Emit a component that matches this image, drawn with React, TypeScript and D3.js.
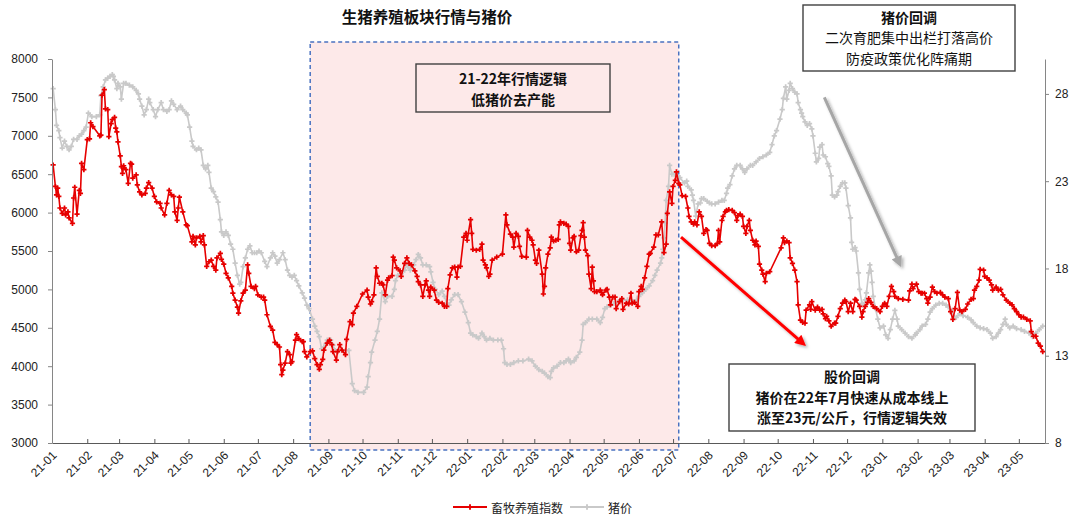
import React, { useRef, useEffect } from 'react';
import * as d3 from 'd3';

type Point = [string, number];

// 畜牧养殖指数, left axis
const livestockIndex: Point[] = [
    ["2021-01-02", 6620], ["2021-01-04", 6340], ["2021-01-05", 6230], ["2021-01-06", 6320], ["2021-01-07", 6210], ["2021-01-08", 6060], ["2021-01-10", 5990], ["2021-01-12", 6060], ["2021-01-13", 5970], ["2021-01-15", 6010], ["2021-01-16", 5930], ["2021-01-19", 5860], ["2021-01-20", 6190], ["2021-01-21", 6330], ["2021-01-23", 5980], ["2021-01-25", 6290], ["2021-01-26", 6250], ["2021-01-27", 6640], ["2021-01-29", 6560],
    ["2021-02-01", 6950], ["2021-02-03", 6960], ["2021-02-04", 7170], ["2021-02-06", 7120], ["2021-02-12", 7000], ["2021-02-13", 7010], ["2021-02-14", 7530], ["2021-02-16", 7600], ["2021-02-17", 7350], ["2021-02-19", 7340], ["2021-02-20", 6990], ["2021-02-22", 7160], ["2021-02-23", 7210], ["2021-02-25", 7240], ["2021-02-26", 7100], ["2021-02-27", 7050], ["2021-02-28", 6920],
    ["2021-03-02", 6740], ["2021-03-03", 6600], ["2021-03-04", 6510], ["2021-03-05", 6610], ["2021-03-07", 6560], ["2021-03-09", 6380], ["2021-03-11", 6640], ["2021-03-12", 6630], ["2021-03-13", 6450], ["2021-03-16", 6490], ["2021-03-17", 6360], ["2021-03-19", 6270], ["2021-03-21", 6230], ["2021-03-24", 6250], ["2021-03-25", 6320], ["2021-03-27", 6390], ["2021-03-30", 6320],
    ["2021-04-01", 6210], ["2021-04-03", 6140], ["2021-04-06", 6120], ["2021-04-07", 6060], ["2021-04-10", 5970], ["2021-04-12", 6120], ["2021-04-14", 6290], ["2021-04-16", 6230], ["2021-04-18", 6210], ["2021-04-19", 6010], ["2021-04-21", 5900], ["2021-04-22", 6060], ["2021-04-23", 6200], ["2021-04-26", 6010], ["2021-04-29", 5840], ["2021-04-30", 5830],
    ["2021-05-04", 5620], ["2021-05-05", 5690], ["2021-05-07", 5580], ["2021-05-08", 5670], ["2021-05-11", 5690], ["2021-05-12", 5620], ["2021-05-14", 5700], ["2021-05-15", 5580], ["2021-05-17", 5300], ["2021-05-19", 5360], ["2021-05-21", 5380], ["2021-05-23", 5300], ["2021-05-25", 5250], ["2021-05-26", 5410], ["2021-05-29", 5470], ["2021-05-30", 5390],
    ["2021-06-01", 5330], ["2021-06-03", 5210], ["2021-06-05", 5150], ["2021-06-08", 5040], ["2021-06-09", 4950], ["2021-06-11", 4860], ["2021-06-13", 4770], ["2021-06-14", 4690], ["2021-06-16", 4850], ["2021-06-18", 4950], ["2021-06-20", 4990], ["2021-06-22", 5320], ["2021-06-23", 5210], ["2021-06-25", 5040], ["2021-06-28", 5010], ["2021-06-29", 5040],
    ["2021-07-01", 4930], ["2021-07-04", 4900], ["2021-07-06", 4900], ["2021-07-07", 4860], ["2021-07-09", 4670], ["2021-07-12", 4520], ["2021-07-14", 4470], ["2021-07-16", 4310], ["2021-07-18", 4280], ["2021-07-20", 4250], ["2021-07-21", 4020], ["2021-07-22", 3890], ["2021-07-23", 3950], ["2021-07-25", 4040], ["2021-07-27", 4190], ["2021-07-29", 4150], ["2021-07-30", 4040], ["2021-07-31", 4060],
    ["2021-08-03", 4340], ["2021-08-04", 4410], ["2021-08-06", 4360], ["2021-08-09", 4320], ["2021-08-10", 4320], ["2021-08-11", 4190], ["2021-08-13", 4120], ["2021-08-16", 4190], ["2021-08-18", 4200], ["2021-08-20", 4100], ["2021-08-22", 4020], ["2021-08-24", 3960], ["2021-08-25", 4020], ["2021-08-27", 4090], ["2021-08-28", 4210], ["2021-08-31", 4300],
    ["2021-09-02", 4340], ["2021-09-04", 4280], ["2021-09-05", 4190], ["2021-09-08", 4080], ["2021-09-09", 4190], ["2021-09-11", 4280], ["2021-09-13", 4210], ["2021-09-16", 4150], ["2021-09-17", 4350], ["2021-09-20", 4580], ["2021-09-22", 4540], ["2021-09-23", 4690], ["2021-09-26", 4780],
    ["2021-10-01", 4940], ["2021-10-05", 4990], ["2021-10-06", 4900], ["2021-10-08", 4810], ["2021-10-09", 4840], ["2021-10-11", 4930], ["2021-10-13", 5280], ["2021-10-14", 5170], ["2021-10-16", 5080], ["2021-10-18", 5080], ["2021-10-19", 5060], ["2021-10-21", 4930], ["2021-10-23", 5120], ["2021-10-24", 5150], ["2021-10-27", 5180], ["2021-10-28", 5420], ["2021-10-29", 5380], ["2021-10-31", 5280],
    ["2021-11-03", 5240], ["2021-11-04", 5170], ["2021-11-07", 5340], ["2021-11-09", 5410], ["2021-11-11", 5340], ["2021-11-13", 5320], ["2021-11-16", 5240], ["2021-11-18", 5170], ["2021-11-19", 5100], ["2021-11-21", 5060], ["2021-11-23", 4910], ["2021-11-25", 5060], ["2021-11-26", 5110], ["2021-11-28", 4990], ["2021-11-29", 4910], ["2021-11-30", 5030],
    ["2021-12-03", 4990], ["2021-12-05", 4860], ["2021-12-07", 4830], ["2021-12-10", 4820], ["2021-12-12", 4780], ["2021-12-14", 4780], ["2021-12-15", 5010], ["2021-12-17", 5190], ["2021-12-19", 5280], ["2021-12-21", 5290], ["2021-12-23", 5160], ["2021-12-24", 5290], ["2021-12-26", 5300], ["2021-12-29", 5680], ["2021-12-31", 5730],
    ["2022-01-01", 5640], ["2022-01-04", 5910], ["2022-01-05", 5730], ["2022-01-06", 5520], ["2022-01-09", 5510], ["2022-01-12", 5520], ["2022-01-14", 5590], ["2022-01-15", 5380], ["2022-01-17", 5320], ["2022-01-18", 5280], ["2022-01-20", 5170], ["2022-01-21", 5200], ["2022-01-23", 5380], ["2022-01-27", 5420],
    ["2022-02-01", 5460], ["2022-02-04", 5970], ["2022-02-05", 5840], ["2022-02-08", 5720], ["2022-02-10", 5680], ["2022-02-11", 5550], ["2022-02-13", 5730], ["2022-02-15", 5690], ["2022-02-16", 5560], ["2022-02-18", 5430], ["2022-02-22", 5420], ["2022-02-23", 5770], ["2022-02-25", 5680], ["2022-02-27", 5640], ["2022-02-28", 5580],
    ["2022-03-02", 5380], ["2022-03-03", 5340], ["2022-03-05", 5510], ["2022-03-08", 5200], ["2022-03-09", 4940], ["2022-03-10", 5040], ["2022-03-11", 5280], ["2022-03-13", 5460], ["2022-03-15", 5540], ["2022-03-16", 5680], ["2022-03-18", 5630], ["2022-03-20", 5640], ["2022-03-22", 5650], ["2022-03-23", 5840], ["2022-03-24", 5880], ["2022-03-27", 5860], ["2022-03-29", 5850], ["2022-03-31", 5820],
    ["2022-04-01", 5600], ["2022-04-02", 5510], ["2022-04-04", 5670], ["2022-04-05", 5690], ["2022-04-07", 5490], ["2022-04-09", 5510], ["2022-04-11", 5700], ["2022-04-12", 5770], ["2022-04-13", 5870], ["2022-04-14", 5680], ["2022-04-15", 5510], ["2022-04-17", 5440], ["2022-04-18", 5200], ["2022-04-20", 5010], ["2022-04-21", 5290], ["2022-04-22", 5110], ["2022-04-23", 4970], ["2022-04-25", 4970], ["2022-04-28", 4990], ["2022-04-29", 4960], ["2022-04-30", 4930],
    ["2022-05-03", 4990], ["2022-05-04", 5000], ["2022-05-06", 4900], ["2022-05-07", 4800], ["2022-05-09", 4900], ["2022-05-11", 4900], ["2022-05-12", 4750], ["2022-05-15", 4840], ["2022-05-17", 4880], ["2022-05-18", 4740], ["2022-05-21", 4820], ["2022-05-23", 4810], ["2022-05-25", 4950], ["2022-05-26", 4820], ["2022-05-28", 4830], ["2022-05-31", 4780],
    ["2022-06-01", 4970], ["2022-06-03", 5040], ["2022-06-04", 5000], ["2022-06-06", 5150], ["2022-06-08", 5300], ["2022-06-10", 5460], ["2022-06-11", 5470], ["2022-06-14", 5550], ["2022-06-16", 5710], ["2022-06-18", 5710], ["2022-06-21", 5880], ["2022-06-23", 5480], ["2022-06-25", 5590], ["2022-06-26", 5990], ["2022-06-28", 6270], ["2022-06-30", 6120],
    ["2022-07-01", 6340], ["2022-07-03", 6420], ["2022-07-04", 6530], ["2022-07-06", 6380], ["2022-07-07", 6360], ["2022-07-09", 6220], ["2022-07-12", 6210], ["2022-07-14", 6060], ["2022-07-15", 5950], ["2022-07-17", 5880], ["2022-07-19", 5850], ["2022-07-20", 5880], ["2022-07-22", 5840], ["2022-07-24", 6010], ["2022-07-26", 5950], ["2022-07-28", 5730], ["2022-07-30", 5780], ["2022-07-31", 5770],
    ["2022-08-02", 5600], ["2022-08-04", 5570], ["2022-08-07", 5570], ["2022-08-09", 5600], ["2022-08-10", 5770], ["2022-08-11", 5620], ["2022-08-13", 5900], ["2022-08-14", 5950], ["2022-08-16", 6010], ["2022-08-17", 6030], ["2022-08-19", 6040], ["2022-08-22", 6030], ["2022-08-24", 6000], ["2022-08-26", 5900], ["2022-08-27", 5960], ["2022-08-29", 5980], ["2022-08-31", 5950],
    ["2022-09-01", 5820], ["2022-09-03", 5730], ["2022-09-04", 5820], ["2022-09-06", 5900], ["2022-09-07", 5770], ["2022-09-09", 5640], ["2022-09-11", 5580], ["2022-09-12", 5630], ["2022-09-14", 5560], ["2022-09-15", 5330], ["2022-09-17", 5250], ["2022-09-18", 5200], ["2022-09-20", 5100], ["2022-09-21", 5210], ["2022-09-24", 5230],
    ["2022-10-04", 5540], ["2022-10-06", 5670], ["2022-10-07", 5610], ["2022-10-09", 5630], ["2022-10-11", 5610], ["2022-10-12", 5410], ["2022-10-14", 5340], ["2022-10-16", 5250], ["2022-10-18", 5100], ["2022-10-19", 4800], ["2022-10-21", 4600], ["2022-10-23", 4570], ["2022-10-25", 4560], ["2022-10-26", 4730], ["2022-10-29", 4800], ["2022-10-30", 4740], ["2022-10-31", 4840],
    ["2022-11-03", 4730], ["2022-11-05", 4770], ["2022-11-07", 4730], ["2022-11-09", 4740], ["2022-11-10", 4680], ["2022-11-12", 4620], ["2022-11-13", 4650], ["2022-11-15", 4590], ["2022-11-17", 4520], ["2022-11-20", 4560], ["2022-11-21", 4560], ["2022-11-23", 4650], ["2022-11-25", 4750], ["2022-11-27", 4820], ["2022-11-29", 4860], ["2022-11-30", 4840],
    ["2022-12-02", 4710], ["2022-12-04", 4820], ["2022-12-06", 4710], ["2022-12-08", 4870], ["2022-12-09", 4860], ["2022-12-12", 4780], ["2022-12-14", 4640], ["2022-12-15", 4710], ["2022-12-17", 4780], ["2022-12-19", 4830], ["2022-12-20", 4880], ["2022-12-22", 4830], ["2022-12-24", 4780], ["2022-12-27", 4750], ["2022-12-30", 4710],
    ["2023-01-01", 4780], ["2023-01-03", 4820], ["2023-01-05", 4780], ["2023-01-07", 4910], ["2023-01-09", 5040], ["2023-01-11", 4970], ["2023-01-12", 4910], ["2023-01-15", 4880], ["2023-01-19", 4870], ["2023-01-24", 4860], ["2023-01-25", 4980], ["2023-01-27", 5070], ["2023-01-28", 5010], ["2023-01-31", 5070],
    ["2023-02-02", 4970], ["2023-02-04", 4950], ["2023-02-05", 4950], ["2023-02-07", 4950], ["2023-02-09", 4880], ["2023-02-10", 4820], ["2023-02-12", 4900], ["2023-02-14", 5030], ["2023-02-16", 4970], ["2023-02-18", 4950], ["2023-02-21", 4960], ["2023-02-23", 4930], ["2023-02-25", 4900], ["2023-02-28", 4880],
    ["2023-03-02", 4710], ["2023-03-04", 4610], ["2023-03-06", 4750], ["2023-03-08", 4960], ["2023-03-10", 4730], ["2023-03-12", 4710], ["2023-03-15", 4740], ["2023-03-17", 4810], ["2023-03-20", 4870], ["2023-03-22", 4880], ["2023-03-23", 4990], ["2023-03-25", 5040], ["2023-03-27", 5120], ["2023-03-28", 5260], ["2023-03-31", 5250],
    ["2023-04-01", 5170], ["2023-04-03", 5150], ["2023-04-05", 5120], ["2023-04-07", 5060], ["2023-04-08", 4990], ["2023-04-11", 5030], ["2023-04-13", 4990], ["2023-04-15", 5000], ["2023-04-17", 4930], ["2023-04-20", 4860], ["2023-04-23", 4820], ["2023-04-25", 4800], ["2023-04-27", 4750], ["2023-04-29", 4710],
    ["2023-05-01", 4670], ["2023-05-03", 4640], ["2023-05-05", 4640], ["2023-05-08", 4610], ["2023-05-11", 4590], ["2023-05-12", 4450], ["2023-05-14", 4390], ["2023-05-16", 4390], ["2023-05-18", 4300], ["2023-05-20", 4260], ["2023-05-22", 4190],
];

// 猪价 (元/公斤), right axis
const hogPrice: Point[] = [
    ["2021-01-02", 28.3], ["2021-01-04", 27.1], ["2021-01-05", 26.2], ["2021-01-07", 25.9], ["2021-01-08", 25.5], ["2021-01-10", 24.9], ["2021-01-12", 25.3], ["2021-01-14", 25.0], ["2021-01-16", 24.8], ["2021-01-18", 25.0], ["2021-01-20", 25.4], ["2021-01-23", 25.4], ["2021-01-25", 25.6], ["2021-01-27", 25.7], ["2021-01-29", 25.9], ["2021-01-31", 26.1],
    ["2021-02-02", 26.9], ["2021-02-05", 26.7], ["2021-02-09", 26.7], ["2021-02-12", 26.8], ["2021-02-13", 27.9], ["2021-02-15", 28.4], ["2021-02-17", 28.8], ["2021-02-19", 28.9], ["2021-02-21", 29.0], ["2021-02-23", 29.1], ["2021-02-24", 29.0], ["2021-02-25", 28.8], ["2021-02-27", 28.3], ["2021-02-28", 28.6],
    ["2021-03-02", 28.4], ["2021-03-03", 27.7], ["2021-03-05", 28.6], ["2021-03-07", 28.6], ["2021-03-10", 28.5], ["2021-03-13", 28.4], ["2021-03-16", 28.2], ["2021-03-18", 28.0], ["2021-03-19", 27.7], ["2021-03-21", 27.3], ["2021-03-23", 26.8], ["2021-03-25", 27.1], ["2021-03-27", 27.7], ["2021-03-28", 27.5], ["2021-03-31", 27.1],
    ["2021-04-02", 26.7], ["2021-04-04", 27.1], ["2021-04-07", 27.5], ["2021-04-09", 27.1], ["2021-04-12", 27.0], ["2021-04-14", 27.1], ["2021-04-16", 27.6], ["2021-04-18", 27.4], ["2021-04-21", 27.1], ["2021-04-24", 27.3], ["2021-04-26", 27.1], ["2021-04-29", 26.9], ["2021-04-30", 26.8],
    ["2021-05-02", 26.1], ["2021-05-04", 25.3], ["2021-05-05", 25.0], ["2021-05-08", 24.8], ["2021-05-10", 24.9], ["2021-05-12", 24.8], ["2021-05-14", 23.9], ["2021-05-16", 23.7], ["2021-05-18", 23.9], ["2021-05-19", 23.5], ["2021-05-21", 22.6], ["2021-05-23", 22.4], ["2021-05-25", 22.1], ["2021-05-27", 21.8], ["2021-05-29", 20.8], ["2021-05-30", 20.1],
    ["2021-06-01", 19.9], ["2021-06-03", 20.1], ["2021-06-05", 19.9], ["2021-06-07", 19.4], ["2021-06-09", 19.1], ["2021-06-11", 18.3], ["2021-06-13", 17.6], ["2021-06-15", 17.1], ["2021-06-16", 17.2], ["2021-06-18", 18.1], ["2021-06-20", 18.6], ["2021-06-22", 19.1], ["2021-06-24", 19.3], ["2021-06-26", 18.9], ["2021-06-28", 18.9], ["2021-06-30", 18.9],
    ["2021-07-02", 19.0], ["2021-07-04", 18.9], ["2021-07-07", 18.4], ["2021-07-09", 18.1], ["2021-07-12", 18.6], ["2021-07-14", 18.9], ["2021-07-16", 18.7], ["2021-07-18", 18.3], ["2021-07-20", 18.5], ["2021-07-23", 18.9], ["2021-07-25", 18.5], ["2021-07-27", 17.9], ["2021-07-29", 17.6], ["2021-07-31", 17.5],
    ["2021-08-02", 17.6], ["2021-08-04", 17.3], ["2021-08-06", 17.0], ["2021-08-09", 16.6], ["2021-08-11", 16.3], ["2021-08-13", 15.9], ["2021-08-15", 15.7], ["2021-08-18", 15.1], ["2021-08-20", 14.7], ["2021-08-22", 14.4], ["2021-08-24", 14.1], ["2021-08-26", 13.4], ["2021-08-28", 13.5], ["2021-08-30", 13.7], ["2021-08-31", 13.9],
    ["2021-09-03", 13.9], ["2021-09-05", 13.6], ["2021-09-07", 13.3], ["2021-09-10", 13.3], ["2021-09-13", 13.3], ["2021-09-16", 13.3], ["2021-09-19", 13.3], ["2021-09-22", 11.4], ["2021-09-24", 11.0], ["2021-09-27", 10.9],
    ["2021-10-02", 10.9], ["2021-10-05", 11.2], ["2021-10-06", 11.8], ["2021-10-08", 12.6], ["2021-10-09", 13.2], ["2021-10-12", 13.9], ["2021-10-14", 14.4], ["2021-10-16", 15.1], ["2021-10-18", 16.6], ["2021-10-21", 16.1], ["2021-10-23", 16.4], ["2021-10-27", 16.4], ["2021-10-29", 16.8], ["2021-10-30", 17.3],
    ["2021-11-01", 17.6], ["2021-11-04", 17.7], ["2021-11-07", 17.9], ["2021-11-09", 18.2], ["2021-11-10", 18.1], ["2021-11-12", 17.9], ["2021-11-15", 18.2], ["2021-11-17", 18.5], ["2021-11-19", 18.8], ["2021-11-21", 18.6], ["2021-11-23", 18.2], ["2021-11-26", 18.2], ["2021-11-29", 18.1], ["2021-11-30", 17.8],
    ["2021-12-02", 17.2], ["2021-12-04", 16.8], ["2021-12-07", 16.5], ["2021-12-10", 16.7], ["2021-12-12", 16.4], ["2021-12-14", 16.0], ["2021-12-16", 15.9], ["2021-12-18", 16.2], ["2021-12-21", 16.5], ["2021-12-24", 16.5], ["2021-12-27", 16.1], ["2021-12-30", 15.5],
    ["2022-01-02", 14.9], ["2022-01-04", 14.3], ["2022-01-06", 14.2], ["2022-01-09", 14.1], ["2022-01-11", 14.0], ["2022-01-14", 14.3], ["2022-01-16", 14.1], ["2022-01-18", 13.9], ["2022-01-21", 14.0], ["2022-01-24", 13.9], ["2022-01-28", 13.9], ["2022-01-31", 13.9],
    ["2022-02-02", 13.4], ["2022-02-03", 12.6], ["2022-02-05", 12.5], ["2022-02-08", 12.5], ["2022-02-11", 12.6], ["2022-02-15", 12.7], ["2022-02-19", 12.7], ["2022-02-24", 12.8], ["2022-02-27", 12.7],
    ["2022-03-02", 12.4], ["2022-03-05", 12.2], ["2022-03-08", 12.1], ["2022-03-10", 12.0], ["2022-03-13", 11.8], ["2022-03-15", 11.75], ["2022-03-16", 12.1], ["2022-03-18", 12.3], ["2022-03-21", 12.4], ["2022-03-24", 12.6], ["2022-03-27", 12.6], ["2022-03-29", 12.7], ["2022-03-31", 12.8],
    ["2022-04-02", 12.6], ["2022-04-05", 12.7], ["2022-04-07", 12.9], ["2022-04-10", 13.2], ["2022-04-12", 13.9], ["2022-04-13", 14.8], ["2022-04-15", 14.9], ["2022-04-18", 15.1], ["2022-04-21", 15.1], ["2022-04-25", 15.1], ["2022-04-28", 14.9], ["2022-04-30", 15.2],
    ["2022-05-02", 15.7], ["2022-05-04", 15.8], ["2022-05-07", 15.9], ["2022-05-10", 16.0], ["2022-05-14", 16.1], ["2022-05-18", 16.2], ["2022-05-22", 16.2], ["2022-05-25", 16.2], ["2022-05-28", 16.1], ["2022-05-30", 16.2],
    ["2022-06-01", 16.4], ["2022-06-04", 16.6], ["2022-06-07", 16.8], ["2022-06-10", 17.0], ["2022-06-13", 17.3], ["2022-06-15", 17.6], ["2022-06-17", 17.9], ["2022-06-20", 18.3], ["2022-06-21", 18.6], ["2022-06-22", 19.1], ["2022-06-23", 19.75], ["2022-06-24", 20.6], ["2022-06-25", 21.9], ["2022-06-27", 22.7], ["2022-06-28", 23.9], ["2022-06-30", 23.4],
    ["2022-07-02", 23.4], ["2022-07-04", 23.3], ["2022-07-07", 23.2], ["2022-07-11", 22.9], ["2022-07-13", 23.0], ["2022-07-14", 22.7], ["2022-07-17", 22.5], ["2022-07-18", 22.2], ["2022-07-19", 21.9], ["2022-07-21", 21.0], ["2022-07-23", 21.7], ["2022-07-25", 21.75], ["2022-07-26", 22.0], ["2022-07-28", 22.0], ["2022-07-31", 21.85],
    ["2022-08-02", 21.75], ["2022-08-04", 21.7], ["2022-08-07", 21.7], ["2022-08-10", 21.8], ["2022-08-13", 21.9], ["2022-08-15", 21.9], ["2022-08-17", 22.3], ["2022-08-18", 22.6], ["2022-08-20", 22.8], ["2022-08-22", 23.3], ["2022-08-24", 23.7], ["2022-08-26", 23.9], ["2022-08-29", 23.9], ["2022-08-31", 23.7],
    ["2022-09-02", 23.5], ["2022-09-04", 23.7], ["2022-09-07", 23.9], ["2022-09-09", 23.9], ["2022-09-12", 24.1], ["2022-09-15", 24.3], ["2022-09-18", 24.4], ["2022-09-21", 24.5], ["2022-09-24", 24.65], ["2022-09-26", 25.1], ["2022-09-28", 25.6], ["2022-09-30", 25.9],
    ["2022-10-03", 26.55], ["2022-10-05", 27.1], ["2022-10-06", 27.75], ["2022-10-08", 28.4], ["2022-10-09", 27.7], ["2022-10-11", 28.2], ["2022-10-12", 28.6], ["2022-10-14", 28.3], ["2022-10-16", 28.1], ["2022-10-18", 28.0], ["2022-10-19", 27.5], ["2022-10-21", 27.1], ["2022-10-22", 26.9], ["2022-10-23", 26.7], ["2022-10-25", 26.4], ["2022-10-27", 26.2], ["2022-10-29", 26.3], ["2022-10-31", 26.0],
    ["2022-11-01", 25.6], ["2022-11-03", 24.6], ["2022-11-04", 24.1], ["2022-11-06", 24.3], ["2022-11-07", 24.95], ["2022-11-09", 25.1], ["2022-11-10", 24.5], ["2022-11-12", 24.4], ["2022-11-14", 24.0], ["2022-11-15", 23.85], ["2022-11-17", 23.3], ["2022-11-18", 22.2], ["2022-11-20", 22.1], ["2022-11-22", 22.2], ["2022-11-23", 22.4], ["2022-11-25", 22.7], ["2022-11-27", 22.9], ["2022-11-29", 22.9], ["2022-11-30", 22.6],
    ["2022-12-02", 21.6], ["2022-12-04", 20.9], ["2022-12-05", 19.5], ["2022-12-06", 19.1], ["2022-12-08", 19.2], ["2022-12-09", 19.0], ["2022-12-11", 17.75], ["2022-12-12", 16.8], ["2022-12-14", 16.0], ["2022-12-15", 15.9], ["2022-12-17", 16.2], ["2022-12-18", 16.6], ["2022-12-20", 17.75], ["2022-12-21", 18.2], ["2022-12-22", 17.85], ["2022-12-23", 17.2], ["2022-12-24", 16.4], ["2022-12-26", 15.7], ["2022-12-28", 15.1], ["2022-12-30", 14.6],
    ["2023-01-02", 14.7], ["2023-01-04", 14.2], ["2023-01-06", 14.0], ["2023-01-08", 14.5], ["2023-01-10", 15.1], ["2023-01-12", 15.6], ["2023-01-14", 15.1], ["2023-01-15", 14.7], ["2023-01-18", 14.5], ["2023-01-21", 14.3], ["2023-01-24", 14.1], ["2023-01-27", 14.0], ["2023-01-30", 14.2], ["2023-01-31", 14.3],
    ["2023-02-03", 14.5], ["2023-02-05", 14.7], ["2023-02-08", 14.8], ["2023-02-10", 15.1], ["2023-02-12", 15.5], ["2023-02-14", 15.7], ["2023-02-17", 15.9], ["2023-02-20", 16.0], ["2023-02-23", 16.0], ["2023-02-26", 15.9], ["2023-02-28", 15.8],
    ["2023-03-03", 15.6], ["2023-03-05", 15.2], ["2023-03-07", 15.2], ["2023-03-10", 15.4], ["2023-03-13", 15.3], ["2023-03-17", 15.2], ["2023-03-20", 15.05], ["2023-03-22", 14.9], ["2023-03-25", 14.7], ["2023-03-28", 14.6], ["2023-03-31", 14.55],
    ["2023-04-03", 14.5], ["2023-04-06", 14.3], ["2023-04-08", 14.0], ["2023-04-11", 14.1], ["2023-04-13", 14.3], ["2023-04-15", 14.5], ["2023-04-17", 14.8], ["2023-04-19", 15.1], ["2023-04-20", 14.8], ["2023-04-23", 14.6], ["2023-04-26", 14.7], ["2023-04-29", 14.55],
    ["2023-05-03", 14.5], ["2023-05-06", 14.4], ["2023-05-10", 14.3], ["2023-05-13", 14.1], ["2023-05-16", 14.3], ["2023-05-19", 14.5], ["2023-05-22", 14.7],
];

const leftTicks = [3000, 3500, 4000, 4500, 5000, 5500, 6000, 6500, 7000, 7500, 8000];
const rightTicks = [8, 13, 18, 23, 28];
const dateRange: [string, string] = ["2021-01-01", "2023-05-24"];
const shadedPeriod: [string, string] = ["2021-08-16", "2022-07-06"];

const seriesNames = ["畜牧养殖指数", "猪价"];
const seriesColors = ["#e60000", "#c9c9c9"];
const titleText = "生猪养殖板块行情与猪价";
const logicNote = ["21-22年行情逻辑", "低猪价去产能"];
const pigNote = ["猪价回调", "二次育肥集中出栏打落高价", "防疫政策优化阵痛期"];
const stockNote = ["股价回调", "猪价在22年7月快速从成本线上", "涨至23元/公斤，行情逻辑失效"];

// arrows as [date, value] pairs: the red one on the left axis, the grey one on the right axis
const stockArrow: [Point, Point] = [["2022-07-08", 5680], ["2022-10-23", 4300]];
const pigArrow: [Point, Point] = [["2022-11-11", 27.8], ["2023-01-16", 18.3]];

const CJK = '"Noto Sans CJK SC", "Noto Sans", sans-serif';
const LATIN = '"Liberation Sans", Arial, sans-serif';

export default function App() {
    const d3Container = useRef<SVGSVGElement>(null);
    const width = 1080;
    const height = 520;
    const plot = { left: 52, right: 1045, top: 59, bottom: 443 };

    useEffect(() => {
        if (!d3Container.current) return;
        const svg = d3.select(d3Container.current);
        svg.selectAll('*').remove();

        const parse = d3.timeParse('%Y-%m-%d');
        const p = (s: string) => parse(s) as Date;

        const x = d3.scaleTime()
            .domain([p(dateRange[0]), p(dateRange[1])])
            .range([plot.left, plot.right]);
        const yLeft = d3.scaleLinear().domain([3000, 8000]).range([plot.bottom, plot.top]);
        const yRight = d3.scaleLinear().domain([8, 30]).range([plot.bottom, plot.top]);

        const defs = svg.append('defs');
        defs.append('filter').attr('id', 'shadow')
            .attr('x', '-20%').attr('y', '-20%').attr('width', '140%').attr('height', '140%')
            .append('feDropShadow')
            .attr('dx', 2).attr('dy', 2).attr('stdDeviation', 1.5)
            .attr('flood-color', '#000').attr('flood-opacity', 0.3);
        const arrowHead = (id: string, color: string) => {
            defs.append('marker').attr('id', id)
                .attr('viewBox', '0 0 10 10').attr('refX', 6).attr('refY', 5)
                .attr('markerWidth', 13).attr('markerHeight', 11)
                .attr('markerUnits', 'userSpaceOnUse').attr('orient', 'auto')
                .append('path').attr('d', 'M0,0L10,5L0,10z').attr('fill', color);
        };
        arrowHead('head-red', '#ff0000');
        arrowHead('head-grey', '#a6a6a6');

        /* shaded 21-22 period */
        const x0 = x(p(shadedPeriod[0]));
        const x1 = x(p(shadedPeriod[1]));
        svg.append('rect')
            .attr('x', x0).attr('y', plot.top - 17)
            .attr('width', x1 - x0).attr('height', plot.bottom - plot.top + 24)
            .attr('fill', '#fde9e9')
            .attr('stroke', '#4a72c0').attr('stroke-width', 1.5)
            .attr('stroke-dasharray', '4,3');

        /* series */
        const drawSeries = (data: Point[], y: d3.ScaleLinear<number, number>, color: string) => {
            const line = d3.line<Point>().x(d => x(p(d[0]))).y(d => y(d[1]));
            svg.append('path').datum(data)
                .attr('d', line)
                .attr('fill', 'none')
                .attr('stroke', color)
                .attr('stroke-width', 1.6)
                .attr('stroke-linejoin', 'round');
            svg.append('g').selectAll('path').data(data)
                .enter()
                .append('path')
                    .attr('d', d3.symbol(d3.symbolCross, 15)())
                    .attr('transform', d => `translate(${x(p(d[0]))},${y(d[1])})`)
                    .attr('fill', color);
        };
        drawSeries(hogPrice, yRight, seriesColors[1]);
        drawSeries(livestockIndex, yLeft, seriesColors[0]);

        /* axes */
        const months = d3.timeMonth.range(p(dateRange[0]), p(dateRange[1]));
        const xAxis = d3.axisBottom(x)
            .tickValues(months)
            .tickFormat(d => d3.timeFormat('%y-%m')(d as Date))
            .tickSizeInner(-4)
            .tickSizeOuter(0);
        const gx = svg.append('g')
            .attr('transform', `translate(0,${plot.bottom})`)
            .call(xAxis);
        gx.select('.domain').attr('stroke', '#595959').attr('stroke-width', 1.2);
        gx.selectAll('.tick line').attr('stroke', '#595959');
        gx.selectAll('.tick text')
            .attr('x', 0).attr('y', 0).attr('dy', '0.35em')
            .attr('transform', 'translate(2,10) rotate(-45)')
            .attr('text-anchor', 'end')
            .attr('font-family', LATIN).attr('font-size', 12).attr('fill', '#222');

        const yAxisL = d3.axisLeft(yLeft).tickValues(leftTicks).tickFormat(d3.format('d'))
            .tickSizeInner(4).tickSizeOuter(0).tickPadding(10);
        const gl = svg.append('g').attr('transform', `translate(${plot.left},0)`).call(yAxisL);
        const yAxisR = d3.axisRight(yRight).tickValues(rightTicks).tickFormat(d3.format('d'))
            .tickSizeInner(4).tickSizeOuter(0).tickPadding(6);
        const gr = svg.append('g').attr('transform', `translate(${plot.right},0)`).call(yAxisR);
        [gl, gr].forEach(g => {
            g.select('.domain').attr('stroke', '#868686');
            g.selectAll('.tick line').attr('stroke', '#868686');
            g.selectAll('.tick text').attr('font-family', LATIN).attr('font-size', 12).attr('fill', '#222');
        });

        /* text boxes */
        const noteBox = (bx: number, by: number, bw: number, bh: number, lines: string[], firstY: number,
            step: number, boldFirstOnly: boolean, fill: string) => {
            svg.append('rect')
                .attr('x', bx).attr('y', by).attr('width', bw).attr('height', bh)
                .attr('fill', fill).attr('stroke', '#404040').attr('stroke-width', 1.4);
            lines.forEach((s, i) => {
                svg.append('text')
                    .attr('x', bx + bw / 2).attr('y', firstY + i * step)
                    .attr('text-anchor', 'middle')
                    .attr('font-family', CJK).attr('font-size', 14)
                    .attr('font-weight', !boldFirstOnly || i === 0 ? 'bold' : 'normal')
                    .attr('fill', '#111')
                    .text(s);
            });
        };
        noteBox(416, 64, 194, 48, logicNote, 84, 20.5, false, 'none');
        noteBox(803, 5, 212, 66, pigNote, 22.8, 20.5, true, '#ffffff');
        noteBox(729, 364, 246, 67, stockNote, 382.3, 20.5, false, '#ffffff');

        /* arrows */
        const arrow = (pts: [Point, Point], y: d3.ScaleLinear<number, number>, color: string, head: string) => {
            svg.append('line')
                .attr('x1', x(p(pts[0][0]))).attr('y1', y(pts[0][1]))
                .attr('x2', x(p(pts[1][0]))).attr('y2', y(pts[1][1]))
                .attr('stroke', color).attr('stroke-width', 3)
                .attr('marker-end', `url(#${head})`)
                .attr('filter', 'url(#shadow)');
        };
        arrow(stockArrow, yLeft, '#ff0000', 'head-red');
        arrow(pigArrow, yRight, '#a6a6a6', 'head-grey');

        /* title */
        svg.append('text')
            .attr('x', 427).attr('y', 16)
            .attr('text-anchor', 'middle').attr('dominant-baseline', 'central')
            .attr('font-family', CJK).attr('font-size', 15.5).attr('font-weight', 'bold')
            .attr('fill', '#111')
            .text(titleText);

        /* legend */
        const legendItems = [
            { name: seriesNames[0], color: seriesColors[0], x: 453 },
            { name: seriesNames[1], color: seriesColors[1], x: 570 },
        ];
        const lg = svg.append('g').attr('transform', 'translate(0,507)');
        legendItems.forEach(item => {
            lg.append('line')
                .attr('x1', item.x).attr('x2', item.x + 34).attr('y1', 0).attr('y2', 0)
                .attr('stroke', item.color).attr('stroke-width', 1.8);
            lg.append('path')
                .attr('d', d3.symbol(d3.symbolCross, 18)())
                .attr('transform', `translate(${item.x + 17},0)`)
                .attr('fill', item.color);
            lg.append('text')
                .attr('x', item.x + 38).attr('y', 0)
                .attr('dominant-baseline', 'central')
                .attr('font-family', CJK).attr('font-size', 12).attr('fill', '#222')
                .text(item.name);
        });
    }, []);

    return (
        <svg
            ref={d3Container}
            width={width}
            height={height}
            style={{ position: 'absolute', left: 0, top: 0, background: '#ffffff' }}
        />
    );
}
